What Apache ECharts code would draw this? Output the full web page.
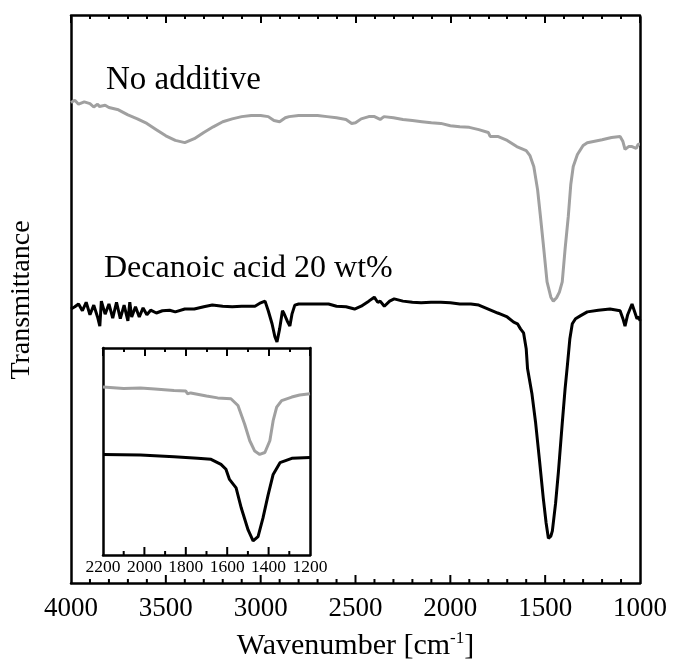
<!DOCTYPE html>
<html>
<head>
<meta charset="utf-8">
<script src="https://cdn.jsdelivr.net/npm/echarts@6/dist/echarts.min.js"></script>
<style>
html,body{margin:0;padding:0;background:#fff;}
#chart{width:675px;height:666px;}
</style>
</head>
<body>
<div id="chart"></div>
<script>
var noAdditive = [
[4000,84.9],[3980,85.3],[3960,84.6],[3950,84.5],[3930,85.0],[3900,84.7],[3880,84.1],[3860,84.6],[3850,84.2],[3820,84.4],[3800,84.0],[3750,83.6],[3700,82.7],[3650,82.0],
[3600,81.2],[3550,80.1],[3500,79.0],[3450,78.2],[3400,77.8],[3350,78.5],[3300,79.6],[3250,80.6],
[3200,81.5],[3150,82.0],[3100,82.4],[3050,82.6],[3000,82.6],[2960,82.4],[2930,81.7],[2900,81.5],
[2870,82.2],[2850,82.4],[2800,82.6],[2750,82.6],[2700,82.6],[2650,82.4],[2600,82.2],[2550,81.9],
[2520,81.2],[2500,81.3],[2470,82.0],[2430,82.4],[2400,82.4],[2370,81.9],[2350,82.4],[2300,82.2],
[2250,81.9],[2200,81.7],[2150,81.5],[2100,81.3],[2050,81.2],[2000,80.8],[1950,80.6],[1900,80.5],
[1850,80.1],[1800,79.6],[1790,78.9],[1750,78.9],[1700,78.2],[1650,77.1],[1600,76.4],[1580,75.5],
[1560,73.6],[1540,69.5],[1525,64.8],[1510,59.9],[1490,53.2],[1470,50.5],[1457,49.8],[1440,50.4],
[1425,51.4],[1410,53.2],[1395,59.0],[1378,64.8],[1365,70.4],[1352,73.6],[1330,75.7],[1300,77.3],
[1278,77.8],[1200,78.3],[1150,78.7],[1105,78.9],[1090,78.0],[1079,76.6],[1060,77.1],[1042,77.1],
[1020,76.8],[1010,77.5],[1000,77.5]
];
var decanoic = [
[4000,48.4],[3980,48.8],[3960,49.3],[3940,48.1],[3920,49.6],[3900,47.4],[3880,49.1],[3860,47.0],
[3848,45.4],[3840,49.8],[3820,47.5],[3800,49.3],[3780,46.8],[3760,49.6],[3740,46.7],[3720,49.1],
[3700,46.3],[3690,49.6],[3680,47.0],[3660,48.8],[3640,47.0],[3620,48.6],[3600,47.4],[3580,48.2],
[3550,47.7],[3518,48.1],[3480,48.2],[3450,47.9],[3400,48.4],[3350,48.4],[3300,48.8],[3255,49.1],
[3200,48.9],[3150,48.8],[3100,48.9],[3050,48.9],[3030,48.9],[3000,49.5],[2977,49.8],[2960,48.1],
[2940,45.8],[2925,43.5],[2914,42.6],[2900,44.9],[2885,48.1],[2878,47.7],[2860,46.3],[2846,45.4],
[2835,47.5],[2820,49.1],[2800,49.3],[2750,49.3],[2700,49.3],[2642,49.3],[2600,48.9],[2550,48.8],
[2505,48.4],[2470,48.9],[2430,49.8],[2401,50.5],[2383,49.6],[2370,49.8],[2348,48.9],[2320,49.8],
[2296,50.2],[2250,49.8],[2200,49.6],[2154,49.5],[2102,49.6],[2050,49.6],[2000,49.5],[1950,49.3],
[1892,49.3],[1850,49.1],[1800,48.4],[1750,47.7],[1735,47.5],[1700,47.0],[1666,46.1],[1646,45.8],
[1630,44.9],[1614,44.2],[1600,41.4],[1593,37.9],[1570,33.5],[1551,28.5],[1530,21.7],[1510,15.0],
[1495,10.6],[1483,7.9],[1470,8.3],[1462,9.2],[1445,14.1],[1430,19.7],[1410,28.2],[1395,34.3],
[1383,38.4],[1370,43.1],[1357,45.8],[1340,46.7],[1315,47.2],[1278,47.9],[1220,48.2],[1158,48.4],
[1120,48.2],[1105,48.1],[1090,46.7],[1079,45.4],[1065,47.4],[1042,49.3],[1030,48.1],[1016,46.7],
[1005,47.0],[1000,46.3]
];
var insetNoAdditive = [
[2200,81.2],[2100,80.4],[2019,80.7],[1950,80.2],[1857,79.5],[1800,79.2],[1792,77.9],[1776,78.3],
[1700,76.8],[1646,75.9],[1582,75.5],[1548,72.2],[1516,63.3],[1491,55.2],[1467,50.2],[1443,48.6],
[1418,49.5],[1394,55.2],[1378,64.9],[1361,71.4],[1337,74.6],[1288,76.3],[1250,77.3],[1200,77.9]
];
var insetDecanoic = [
[2200,48.6],[2019,48.3],[1857,47.5],[1743,46.7],[1678,46.2],[1630,43.8],[1606,41.4],[1589,36.5],
[1557,32.4],[1532,22.7],[1499,12.1],[1475,6.8],[1451,8.9],[1427,17.9],[1402,29.2],[1378,38.9],
[1345,44.6],[1288,46.7],[1200,47.1]
];
var seriesNames = ['No additive', 'Decanoic acid 20 wt%'];
var xTitle = 'Wavenumber [cm';
var yTitle = 'Transmittance';
var mainRange = [1000, 4000], mainMajor = 500, mainMinor = 100;
var insetRange = [1200, 2200], insetMajor = 200, insetMinor = 100;

var FONT = '"Liberation Serif","Times New Roman",serif';
var GRAY = '#a0a0a0';
var MAIN_TOP = 17, MAIN_BOTTOM = 81, MAIN_H = 666 - MAIN_TOP - MAIN_BOTTOM;
var IN_LEFT = 103, IN_TOP = 348, IN_W = 207, IN_H = 207;
var MAJ_LEN = 8, MIN_LEN = 4;

function labelAx(gridIndex, range, interval, fontSize, margin, extra) {
  var a = {
    type: 'value', gridIndex: gridIndex, position: 'bottom', inverse: true,
    min: range[0], max: range[1], interval: interval,
    axisLine: {show: true, onZero: false, lineStyle: {color: '#000', width: 2.5}},
    axisTick: {show: false}, minorTick: {show: false}, splitLine: {show: false},
    axisLabel: {show: true, color: '#000', fontFamily: FONT, fontSize: fontSize, margin: margin,
      formatter: function (v) { return String(v); }}
  };
  if (extra) for (var k in extra) a[k] = extra[k];
  return a;
}
function topTickAx(gridIndex, offset, range, interval, minorSplit, z) {
  return {
    type: 'value', gridIndex: gridIndex, position: 'bottom', offset: offset, inverse: true,
    min: range[0], max: range[1], interval: interval, z: z,
    axisLine: {show: true, onZero: false, lineStyle: {color: '#000', width: 2.5}},
    axisTick: {show: true, inside: false, length: MAJ_LEN, lineStyle: {color: '#000', width: 2}},
    minorTick: {show: true, splitNumber: minorSplit, length: MIN_LEN, lineStyle: {color: '#000', width: 2}},
    splitLine: {show: false}, axisLabel: {show: false}
  };
}
function yAx(gridIndex, pos, extra) {
  var a = {
    type: 'value', gridIndex: gridIndex, position: pos, min: 0, max: 100,
    axisLine: {show: true, onZero: false, lineStyle: {color: '#000', width: 2.5}},
    axisTick: {show: false}, axisLabel: {show: false}, splitLine: {show: false}
  };
  if (extra) for (var k in extra) a[k] = extra[k];
  return a;
}
// tick positions along the bottom edge (value, isMajor)
function tickValues(range, major, minor) {
  var out = [];
  var n = Math.round((range[1] - range[0]) / minor);
  for (var i = 1; i < n; i++) {
    var v = range[0] + i * minor;
    out.push([v, Math.abs(v / major - Math.round(v / major)) < 1e-6 ? 1 : 0]);
  }
  return out;
}
// custom series: each tick is a short segment drawn up from the bottom edge, x from the axis scale
function tickSeries(xi, yi, range, major, minor, z) {
  return {
    type: 'custom', xAxisIndex: xi, yAxisIndex: yi, z: z, silent: true, clip: false,
    data: tickValues(range, major, minor),
    renderItem: function (params, api) {
      var p = api.coord([api.value(0), 0]);
      var len = api.value(1) ? MAJ_LEN : MIN_LEN;
      return {
        type: 'line', z2: 100,
        shape: {x1: p[0], y1: p[1], x2: p[0], y2: p[1] - len},
        style: {stroke: '#000', lineWidth: 2}
      };
    }
  };
}

var chart = echarts.init(document.getElementById('chart'), null, {renderer: 'canvas'});
chart.setOption({
  animation: false,
  backgroundColor: '#fff',
  grid: [
    {left: 68, right: 35, top: MAIN_TOP, bottom: MAIN_BOTTOM, show: false},
    {left: IN_LEFT, top: IN_TOP, width: IN_W, height: IN_H, show: true, backgroundColor: '#fff', borderWidth: 0, z: 5}
  ],
  xAxis: [
    labelAx(0, mainRange, mainMajor, 27, 12, {
      name: '{a|' + xTitle + '}{s|-1}{a|]}', nameLocation: 'middle', nameGap: 47,
      nameTextStyle: {rich: {
        a: {fontFamily: FONT, fontSize: 30, color: '#000'},
        s: {fontFamily: FONT, fontSize: 17, color: '#000', padding: [0, 0, 15, 0]}
      }}
    }),
    topTickAx(0, -MAIN_H, mainRange, mainMajor, mainMajor / mainMinor, 0),
    labelAx(1, insetRange, insetMajor, 17.5, 3, {z: 6}),
    topTickAx(1, -IN_H, insetRange, insetMajor, insetMajor / insetMinor, 6)
  ],
  yAxis: [
    yAx(0, 'left', {name: yTitle, nameLocation: 'middle', nameGap: 35,
      nameTextStyle: {fontFamily: FONT, fontSize: 28, color: '#000'}}),
    yAx(0, 'right'),
    yAx(1, 'left', {z: 6}),
    yAx(1, 'right', {z: 6})
  ],
  series: [
    {name: seriesNames[0], type: 'line', xAxisIndex: 0, yAxisIndex: 0, data: noAdditive,
      showSymbol: false, lineStyle: {color: GRAY, width: 3}, itemStyle: {color: GRAY}},
    {name: seriesNames[1], type: 'line', xAxisIndex: 0, yAxisIndex: 0, data: decanoic,
      showSymbol: false, lineStyle: {color: '#000', width: 3}, itemStyle: {color: '#000'}},
    {name: seriesNames[0], type: 'line', xAxisIndex: 2, yAxisIndex: 2, data: insetNoAdditive, z: 7,
      showSymbol: false, lineStyle: {color: GRAY, width: 3}, itemStyle: {color: GRAY}},
    {name: seriesNames[1], type: 'line', xAxisIndex: 2, yAxisIndex: 2, data: insetDecanoic, z: 7,
      showSymbol: false, lineStyle: {color: '#000', width: 3}, itemStyle: {color: '#000'}},
    tickSeries(0, 0, mainRange, mainMajor, mainMinor, 20),
    tickSeries(2, 2, insetRange, insetMajor, insetMinor, 20)
  ],
  graphic: [
    {type: 'text', left: 106, top: 64, style: {text: seriesNames[0], font: '33px ' + FONT, fill: '#000'}},
    {type: 'text', left: 104, top: 253, style: {text: seriesNames[1], font: '32px ' + FONT, fill: '#000'}}
  ]
});
</script>
</body>
</html>
